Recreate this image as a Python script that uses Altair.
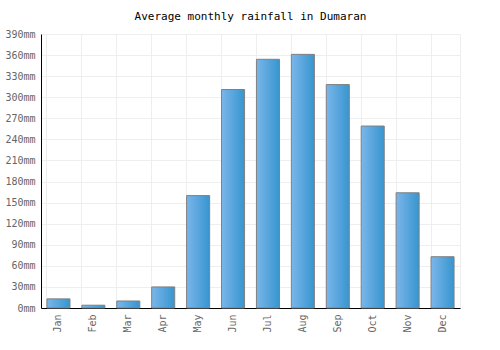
import altair as alt
import pandas as pd

months = ["Jan", "Feb", "Mar", "Apr", "May", "Jun", "Jul", "Aug", "Sep", "Oct", "Nov", "Dec"]
rainfall = [13, 4, 10, 30, 160, 311, 354, 361, 318, 259, 164, 73]

df = pd.DataFrame({"month": months, "rain": rainfall})

font = "DejaVu Sans Mono"

chart = alt.Chart(df).mark_bar(
    stroke="#808080",
    strokeWidth=1,
    color=alt.Gradient(
        gradient="linear",
        x1=0, x2=1, y1=0, y2=0,
        stops=[alt.GradientStop(color="#7ab6ea", offset=0),
               alt.GradientStop(color="#3795cf", offset=1)],
    ),
).encode(
    x=alt.X("month:N", sort=months, title=None,
            scale=alt.Scale(paddingInner=0.34, paddingOuter=0.17),
            axis=alt.Axis(labelAngle=-90, labelAlign="right", labelBaseline="middle",
                          labelPadding=6, ticks=False, grid=True, gridColor="#eeeeee",
                          bandPosition=0, domainColor="black", labelColor="#666666",
                          labelFont=font, labelFontSize=10)),
    y=alt.Y("rain:Q", title=None,
            scale=alt.Scale(domain=[0, 390], nice=False),
            axis=alt.Axis(values=list(range(0, 391, 30)), labelExpr="datum.value + 'mm'",
                          ticks=False, gridColor="#eeeeee", domainColor="black",
                          labelColor="#666666", labelFont=font, labelFontSize=10,
                          labelPadding=6)),
).properties(
    width=419,
    height=274,
    autosize="none",
    padding={"left": 41, "top": 34, "right": 40, "bottom": 42},
    title=alt.TitleParams("Average monthly rainfall in Dumaran", font=font, fontSize=11,
                          fontWeight="normal", color="black", offset=7, anchor="middle"),
).configure_view(stroke="#eeeeee")

chart.save("out.html", embed_options={"renderer": "svg", "actions": False})
